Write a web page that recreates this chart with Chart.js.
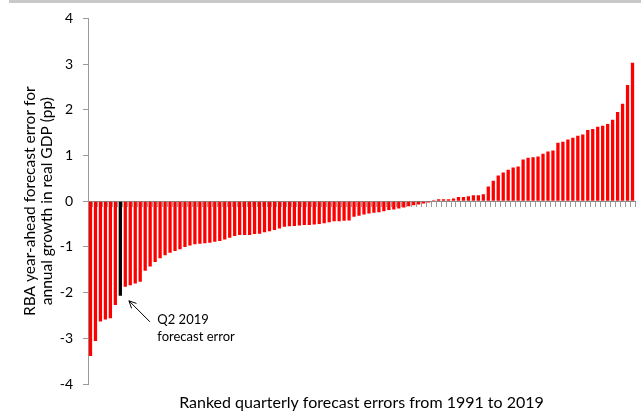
<!DOCTYPE html>
<html>
<head>
<meta charset="utf-8">
<script src="https://cdn.jsdelivr.net/npm/chart.js@4"></script>
<style>
  html, body { margin: 0; padding: 0; background: #fff; }
  #wrap { position: relative; width: 641px; height: 411px; }
  #topstrip { position: absolute; left: 9px; top: 0; width: 632px; height: 3px; background: #c8c8c8; }
  canvas { display: block; }
</style>
</head>
<body>
<div id="wrap">
  <canvas id="c" width="641" height="411"></canvas>
  <div id="topstrip"></div>
</div>
<script>
// Ranked RBA year-ahead forecast errors (pp), lowest to highest
const errors = [
  -3.39, -3.06, -2.63, -2.59, -2.56, -2.27, -2.07, -1.87, -1.84, -1.80,
  -1.76, -1.52, -1.43, -1.33, -1.25, -1.18, -1.13, -1.09, -1.05, -1.00,
  -0.97, -0.94, -0.93, -0.92, -0.91, -0.89, -0.87, -0.84, -0.80, -0.76,
  -0.74, -0.74, -0.74, -0.72, -0.71, -0.68, -0.66, -0.63, -0.60, -0.56,
  -0.55, -0.54, -0.53, -0.52, -0.52, -0.51, -0.50, -0.48, -0.46, -0.44,
  -0.44, -0.43, -0.42, -0.34, -0.32, -0.29, -0.27, -0.25, -0.24, -0.22,
  -0.19, -0.18, -0.16, -0.14, -0.11, -0.09, -0.07, -0.05, -0.03,
   0.02,  0.04,  0.04,  0.04,  0.06,  0.09,  0.09,  0.11,  0.13,  0.13,
   0.15,  0.32,  0.45,  0.56,  0.63,  0.69,  0.74,  0.76,  0.91,  0.95,
   0.96,  0.98,  1.04,  1.09,  1.11,  1.28,  1.30,  1.35,  1.39,  1.43,
   1.46,  1.56,  1.58,  1.63,  1.65,  1.69,  1.78,  1.95,  2.13,  2.54,
   3.03
];
// Rank categories
const ranks = errors.map((_, i) => String(i + 1));
// Highlighted observation (Q2 2019)
const highlightIndex = 6;
const annotationLines = ['Q2 2019', 'forecast error'];
const yTitle = ['RBA year-ahead forecast error for', 'annual growth in real GDP (pp)'];
const xTitle = 'Ranked quarterly forecast errors from 1991 to 2019';

const FONT = 'Lato, "Open Sans", sans-serif';
const barColors = errors.map((_, i) => i === highlightIndex ? '#000000' : '#ff0000');

const annotationPlugin = {
  id: 'q2annot',
  afterDatasetsDraw(chart) {
    const el = chart.getDatasetMeta(0).data[highlightIndex];
    if (!el) return;
    const bx = el.x, by = el.y;
    const ctx = chart.ctx;
    ctx.save();
    ctx.strokeStyle = '#000';
    ctx.lineWidth = 1;
    const hx = bx + 8.6, hy = by + 5;
    const tx = bx + 29.6, ty = by + 26;
    ctx.beginPath();
    ctx.moveTo(tx, ty);
    ctx.lineTo(hx, hy);
    const ang = Math.atan2(ty - hy, tx - hx);
    const len = 8, spread = 0.45;
    ctx.moveTo(hx + len * Math.cos(ang - spread), hy + len * Math.sin(ang - spread));
    ctx.lineTo(hx, hy);
    ctx.lineTo(hx + len * Math.cos(ang + spread), hy + len * Math.sin(ang + spread));
    ctx.stroke();
    ctx.fillStyle = '#000';
    ctx.font = '13px ' + FONT;
    ctx.textAlign = 'left';
    ctx.textBaseline = 'middle';
    ctx.fillText(annotationLines[0], bx + 37, by + 24);
    ctx.fillText(annotationLines[1], bx + 37, by + 41);
    ctx.restore();
  }
};

new Chart(document.getElementById('c'), {
  type: 'bar',
  data: {
    labels: ranks,
    datasets: [{
      data: errors,
      backgroundColor: barColors,
      borderWidth: 0,
      barPercentage: 0.66,
      categoryPercentage: 1.0
    }]
  },
  options: {
    responsive: false,
    animation: false,
    devicePixelRatio: 1,
    layout: { padding: { top: 15, right: 6, left: 0, bottom: 0 } },
    plugins: {
      legend: { display: false },
      tooltip: { enabled: false },
      title: {
        display: true,
        position: 'bottom',
        fullSize: false,
        text: xTitle,
        color: '#000',
        font: { family: FONT, size: 16, weight: 'normal', lineHeight: 17 / 16 },
        padding: { top: 10, bottom: 0 }
      }
    },
    scales: {
      x: {
        position: { y: 0 },
        offset: true,
        grid: {
          display: true,
          drawOnChartArea: false,
          drawTicks: true,
          tickLength: 5,
          color: '#9a9a9a',
          offset: true
        },
        border: { display: true, color: '#8c8c8c', width: 1 },
        ticks: { display: false }
      },
      y: {
        min: -4,
        max: 4,
        ticks: {
          stepSize: 1,
          color: '#000',
          padding: 10,
          font: { family: FONT, size: 14 }
        },
        grid: {
          display: true,
          drawOnChartArea: false,
          drawTicks: true,
          tickLength: 5,
          color: '#9a9a9a'
        },
        border: { display: true, color: '#9a9a9a', width: 1 },
        title: {
          display: true,
          text: yTitle,
          color: '#000',
          font: { family: FONT, size: 15.5, lineHeight: 1.1 },
          padding: { top: 21, bottom: 0 }
        },
        afterFit(scale) { scale.width = 88; }
      }
    }
  },
  plugins: [annotationPlugin]
});
</script>
</body>
</html>
